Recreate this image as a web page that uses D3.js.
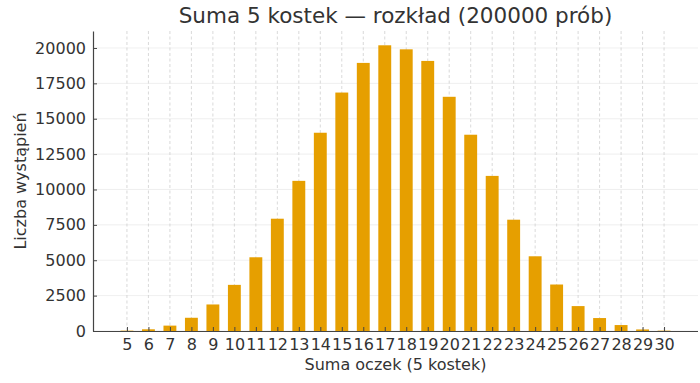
<!DOCTYPE html>
<html><head><meta charset="utf-8">
<script src="https://cdn.jsdelivr.net/npm/d3@7"></script>
<style>body{margin:0;background:#fff;} text{font-family:"DejaVu Sans",sans-serif;}</style>
</head><body>
<svg id="chart" width="700" height="383"></svg>
<script>
const sums = [5,6,7,8,9,10,11,12,13,14,15,16,17,18,19,20,21,22,23,24,25,26,27,28,29,30];
const counts = [25,120,380,935,1875,3260,5210,7935,10610,14010,16850,18945,20190,19905,19085,16550,13870,10960,7865,5280,3285,1760,915,420,110,25];
const yTicks = [0,2500,5000,7500,10000,12500,15000,17500,20000];
const title = "Suma 5 kostek — rozkład (200000 prób)";
const xLabel = "Suma oczek (5 kostek)";
const yLabel = "Liczba wystąpień";

const svg = d3.select("#chart");
const L = 93, R = 698, T = 31, B = 331;
const barW = 0.6;
const xMin = d3.min(sums) - barW/2, xMax = d3.max(sums) + barW/2;
const xPad = (xMax - xMin) * 0.05;
const x = d3.scaleLinear().domain([xMin - xPad, xMax + xPad]).range([L, R]);
const y = d3.scaleLinear().domain([0, d3.max(counts) * 1.05]).range([B, T]);

// grid
svg.append("g").selectAll("line").data(yTicks).join("line")
  .attr("x1", L).attr("x2", R).attr("y1", d => y(d)).attr("y2", d => y(d))
  .attr("stroke", "#ebebeb").attr("stroke-width", 0.8);
svg.append("g").selectAll("line").data(sums).join("line")
  .attr("x1", d => x(d)).attr("x2", d => x(d)).attr("y1", T).attr("y2", B)
  .attr("stroke", "#cfcfcf").attr("stroke-width", 0.8).attr("stroke-dasharray", "3,2.5");

// bars
svg.append("g").selectAll("rect").data(sums).join("rect")
  .attr("x", d => x(d - barW/2)).attr("width", d => x(d + barW/2) - x(d - barW/2))
  .attr("y", (d,i) => y(counts[i])).attr("height", (d,i) => B - y(counts[i]))
  .attr("fill", "#E69F00");

// axes
const xAxis = d3.axisBottom(x).tickValues(sums).tickFormat(d3.format("d")).tickSizeInner(-4).tickSizeOuter(0).tickPadding(8);
const gx = svg.append("g").attr("transform", `translate(0,${B})`).call(xAxis);
const yAxis = d3.axisLeft(y).tickValues(yTicks).tickFormat(d3.format("d")).tickSizeInner(-4).tickSizeOuter(0).tickPadding(7);
const gy = svg.append("g").attr("transform", `translate(${L},0)`).call(yAxis);
[gx, gy].forEach(g => {
  g.select(".domain").attr("stroke", "#444").attr("stroke-width", 1.2);
  g.selectAll(".tick line").attr("stroke", "#444").attr("stroke-width", 1);
  g.selectAll(".tick text").attr("fill", "#333").style("font-size", "16px").style("font-family", "DejaVu Sans");
});
gx.select(".domain").attr("d", `M${L},0.5H${R}`);

// labels
svg.append("text").attr("x", (L+R)/2).attr("y", 23).attr("text-anchor", "middle")
  .attr("fill", "#333").style("font-size", "21.5px").text(title);
svg.append("text").attr("x", (L+R)/2).attr("y", 370).attr("text-anchor", "middle")
  .attr("fill", "#333").style("font-size", "16px").text(xLabel);
svg.append("text").attr("transform", `translate(26,${(T+B)/2}) rotate(-90)`).attr("text-anchor", "middle")
  .attr("fill", "#333").style("font-size", "16px").text(yLabel);
</script>
</body></html>
